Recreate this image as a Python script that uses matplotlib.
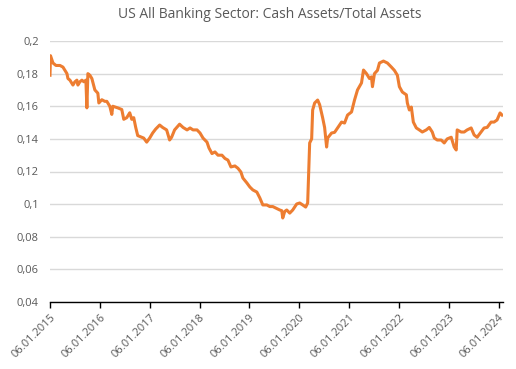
import matplotlib
matplotlib.use("Agg")
import matplotlib.pyplot as plt
import pandas as pd
import numpy as np

title = "US All Banking Sector: Cash Assets/Total Assets"

# time in decimal years
years = [
    2015.00, 2015.01, 2015.06, 2015.12, 2015.20, 2015.26, 2015.30, 2015.34, 2015.36, 2015.40,
    2015.46, 2015.50, 2015.54, 2015.56, 2015.60, 2015.64, 2015.68, 2015.72, 2015.74, 2015.76,
    2015.80, 2015.84, 2015.90, 2015.96, 2015.98, 2016.04, 2016.10, 2016.14, 2016.20, 2016.24,
    2016.26, 2016.36, 2016.44, 2016.48, 2016.54, 2016.60, 2016.64, 2016.68, 2016.72, 2016.76,
    2016.84, 2016.88, 2016.94, 2017.00, 2017.06, 2017.12, 2017.20, 2017.26, 2017.34, 2017.40,
    2017.44, 2017.50, 2017.60, 2017.67, 2017.75, 2017.81, 2017.87, 2017.95, 2018.01, 2018.07,
    2018.15, 2018.19, 2018.25, 2018.31, 2018.37, 2018.45, 2018.51, 2018.57, 2018.63, 2018.71,
    2018.77, 2018.83, 2018.87, 2018.95, 2019.01, 2019.07, 2019.15, 2019.21, 2019.27, 2019.35,
    2019.41, 2019.47, 2019.53, 2019.61, 2019.65, 2019.67, 2019.71, 2019.75, 2019.81, 2019.87,
    2019.95, 2020.01, 2020.07, 2020.13, 2020.17, 2020.21, 2020.25, 2020.27, 2020.31, 2020.37,
    2020.41, 2020.47, 2020.51, 2020.55, 2020.57, 2020.65, 2020.71, 2020.77, 2020.85, 2020.91,
    2020.97, 2021.05, 2021.11, 2021.17, 2021.25, 2021.29, 2021.35, 2021.41, 2021.45, 2021.47,
    2021.51, 2021.57, 2021.61, 2021.69, 2021.77, 2021.85, 2021.91, 2021.97, 2022.01, 2022.07,
    2022.15, 2022.17, 2022.21, 2022.25, 2022.29, 2022.35, 2022.41, 2022.47, 2022.55, 2022.61,
    2022.67, 2022.71, 2022.77, 2022.85, 2022.91, 2022.97, 2023.05, 2023.11, 2023.15, 2023.17,
    2023.25, 2023.31, 2023.37, 2023.45, 2023.51, 2023.57, 2023.65, 2023.71, 2023.77, 2023.85,
    2023.91, 2023.97, 2024.03, 2024.07,
]

ratio = [
    0.179, 0.191, 0.1865, 0.185, 0.185, 0.184, 0.182, 0.180, 0.177, 0.176,
    0.173, 0.175, 0.176, 0.173, 0.175, 0.176, 0.175, 0.176, 0.159, 0.180,
    0.179, 0.177, 0.170, 0.168, 0.162, 0.164, 0.163, 0.163, 0.160, 0.155,
    0.160, 0.159, 0.158, 0.152, 0.153, 0.156, 0.152, 0.153, 0.147, 0.142,
    0.141, 0.1405, 0.138, 0.1405, 0.1436, 0.146, 0.1485, 0.147, 0.1455, 0.1393,
    0.141, 0.1455, 0.149, 0.147, 0.1455, 0.1467, 0.1455, 0.1455, 0.1436, 0.1405,
    0.138, 0.1344, 0.131, 0.132, 0.130, 0.130, 0.128, 0.127, 0.1228, 0.1234,
    0.122, 0.1197, 0.116, 0.113, 0.1105, 0.1087, 0.1074, 0.1038, 0.0995, 0.0995,
    0.0985, 0.0985, 0.0976, 0.0964, 0.096, 0.0915, 0.0955, 0.0964, 0.0945, 0.0964,
    0.1001, 0.1007, 0.0995, 0.0982, 0.1007, 0.1375, 0.140, 0.1577, 0.162, 0.1638,
    0.161, 0.153, 0.147, 0.135, 0.1405, 0.1436, 0.144, 0.1467, 0.1503, 0.1497,
    0.1546, 0.1565, 0.1638, 0.170, 0.1743, 0.1822, 0.180, 0.177, 0.178, 0.172,
    0.180, 0.182, 0.1865, 0.1877, 0.1865, 0.184, 0.182, 0.179, 0.172, 0.1687,
    0.167, 0.162, 0.1577, 0.1595, 0.1503, 0.1467, 0.1455, 0.1442, 0.1455, 0.147,
    0.1442, 0.1405, 0.1393, 0.1393, 0.1375, 0.140, 0.141, 0.135, 0.1332, 0.1455,
    0.1442, 0.1442, 0.1455, 0.1467, 0.1424, 0.141, 0.1442, 0.1467, 0.147, 0.1503,
    0.1503, 0.1516, 0.1559, 0.1546,
]

tick_years = list(range(2015, 2025))
tick_labels = [f"06.01.{y}" for y in tick_years]
y_ticks = [0.04, 0.06, 0.08, 0.10, 0.12, 0.14, 0.16, 0.18, 0.20]

start = pd.Timestamp("2015-01-06")
dates = [start + pd.Timedelta(days=(y - 2015) * 365.25) for y in years]
tick_dates = [pd.Timestamp(f"{y}-01-06") for y in tick_years]

plt.rcParams['font.family'] = ['Open Sans', 'DejaVu Sans']
gray = "#595959"

fig = plt.figure(figsize=(5.16, 3.69), dpi=100)
ax = fig.add_axes([50/516, 1-302/369, (503-50)/516, (302-41)/369])

ax.plot(dates, ratio, color="#ED7D31", lw=2.2, solid_joinstyle="round")

ax.set_ylim(0.04, 0.2)
ax.set_yticks(y_ticks)
ax.set_yticklabels([f"{v:.2f}".rstrip("0").replace(".", ",") for v in y_ticks])
ax.set_xlim(dates[0], dates[-1] + pd.Timedelta(days=7))
ax.set_xticks(tick_dates)
ax.set_xticklabels(tick_labels, rotation=45, ha="right", va="top", rotation_mode="anchor")

ax.grid(axis="y", color="#d9d9d9", lw=1)
ax.set_axisbelow(True)
for s in ["top", "right", "left"]:
    ax.spines[s].set_visible(False)
ax.spines["bottom"].set_color("#000000")
ax.spines["bottom"].set_linewidth(1)
ax.tick_params(axis="y", length=0, labelsize=8, labelcolor=gray, pad=8)
ax.tick_params(axis="x", length=4, width=1, color="#000000", labelsize=8, labelcolor=gray, pad=3)

fig.text(0.523, 1-15/369, title, ha="center", va="center", fontsize=10, color=gray)

fig.savefig("out.png", dpi=100)
